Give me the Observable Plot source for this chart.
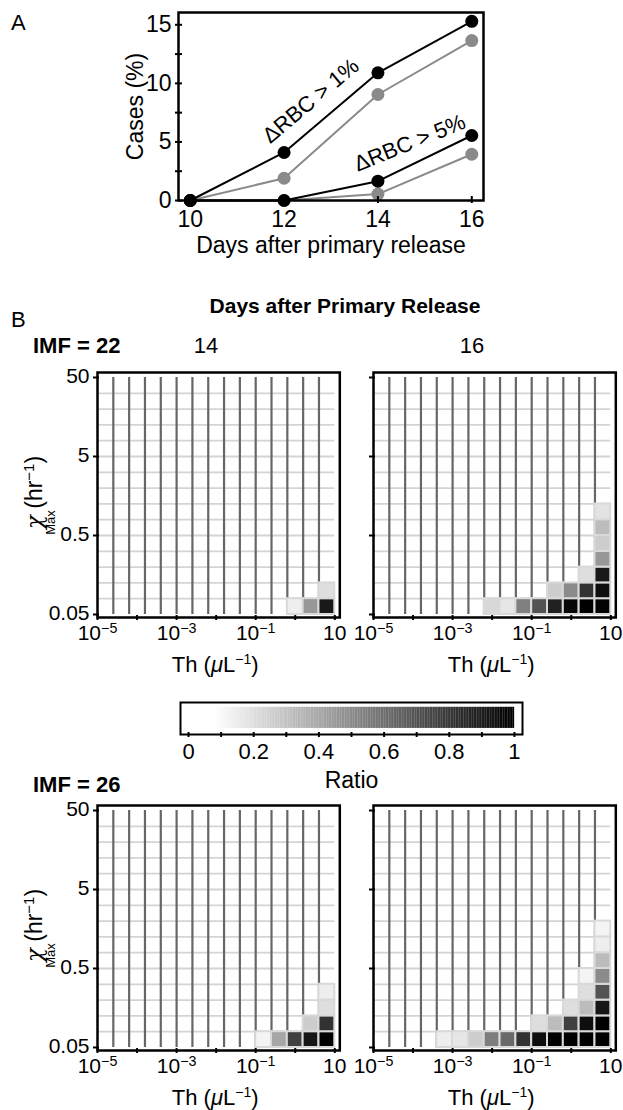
<!DOCTYPE html>
<html><head><meta charset="utf-8">
<script src="https://cdn.jsdelivr.net/npm/d3@7"></script>
<script src="https://cdn.jsdelivr.net/npm/@observablehq/plot@0.6"></script>
<style>
body{margin:0;background:#fff;}
#root{position:relative;width:623px;height:1110px;overflow:hidden;background:#fff;}
#root svg{position:absolute;overflow:visible;background:transparent;}
</style></head><body><div id="root"></div>
<script>
// ---------- Panel A data ----------
const days = [10, 12, 14, 16];
const black1 = [0, 4.1, 10.9, 15.3];   // ΔRBC > 1%, black
const gray1  = [0, 1.9, 9.05, 13.65];  // ΔRBC > 1%, gray
const black5 = [0, 0, 1.65, 5.55];     // ΔRBC > 5%, black
const gray5  = [0, 0, 0.55, 3.95];     // ΔRBC > 5%, gray
const yTicksA = [0, 5, 10, 15];
const yMinorA = [2.5, 7.5, 12.5];
const annotations = [
  {day: 12.57, value: 8.5, text: "ΔRBC > 1%", angle: -40},
  {day: 14.68, value: 4.9, text: "ΔRBC > 5%", angle: -22}
];

// ---------- Panel B data ----------
// column edges: Th (µL^-1), log10 exponents
const thEdgeExp = [-5, -4.6, -4.2, -3.8, -3.4, -3, -2.6, -2.2, -1.8, -1.4, -1, -0.6, -0.2, 0.2, 0.6, 1];
// row edges: χMax (hr^-1)
const chiEdges = [0.05, 0.0792, 0.1256, 0.1991, 0.3155, 0.5, 0.7924, 1.256, 1.991, 3.155, 5, 7.924, 12.56, 19.91, 31.55, 50];
const thTicks = [1e-5, 1e-3, 1e-1, 10];
const thMinor = [1e-4, 1e-2, 1];
const chiTicks = [0.05, 0.5, 5, 50];
const ratioTicks = [0, 0.2, 0.4, 0.6, 0.8, 1];
const ratioMinor = [0.1, 0.3, 0.5, 0.7, 0.9];
// nonzero cells: [column, row (from bottom), ratio]
const imf22_day14 = [[12,0,0.14],[13,0,0.45],[14,0,0.91],[14,1,0.2]];
const imf22_day16 = [[7,0,0.22],[8,0,0.17],[9,0,0.54],[10,0,0.70],[11,0,0.88],[12,0,0.98],[13,0,1],[14,0,0.99],
  [11,1,0.26],[12,1,0.5],[13,1,0.82],[14,1,0.95],[13,2,0.2],[14,2,0.91],[14,3,0.45],[14,4,0.26],[14,5,0.32],[14,6,0.18]];
const imf26_day14 = [[10,0,0.12],[11,0,0.4],[12,0,0.77],[13,0,0.92],[14,0,1],[13,1,0.26],[14,1,0.82],[14,2,0.2],[14,3,0.14]];
const imf26_day16 = [[4,0,0.14],[5,0,0.17],[6,0,0.26],[7,0,0.55],[8,0,0.62],[9,0,0.82],[10,0,0.95],[11,0,1],[12,0,1],[13,0,1],[14,0,1],
  [10,1,0.2],[11,1,0.32],[12,1,0.77],[13,1,0.95],[14,1,1],[12,2,0.2],[13,2,0.32],[14,2,0.92],[13,3,0.2],[14,3,0.7],
  [13,4,0.12],[14,4,0.5],[14,5,0.32],[14,6,0.14],[14,7,0.12]];

const FONT = '"Liberation Sans", Arial, Helvetica, sans-serif';
const root = document.getElementById("root");
const SVGNS = "http://www.w3.org/2000/svg";

function place(el, left, top) {
  el.style.left = left + "px"; el.style.top = top + "px";
  root.appendChild(el);
  return el;
}

// ---------- Panel A ----------
const rowsOf = (vals, series) => days.map((d, i) => ({day: d, value: vals[i], series}));
const grayRows = [...rowsOf(gray1, "g1"), ...rowsOf(gray5, "g5")];
const blackRows = [...rowsOf(black1, "b1"), ...rowsOf(black5, "b5")];

const plotA = Plot.plot({
  width: 623, height: 270,
  marginLeft: 178, marginRight: 140, marginTop: 12, marginBottom: 70,
  style: {fontFamily: FONT, fontSize: "23px", overflow: "visible", background: "transparent", color: "black"},
  x: {domain: [9.75, 16.25]},
  y: {domain: [0, 16.05]},
  marks: [
    Plot.line(grayRows, {x: "day", y: "value", z: "series", stroke: "#8a8a8a", strokeWidth: 2}),
    Plot.dot(grayRows, {x: "day", y: "value", r: 6.5, fill: "#8a8a8a"}),
    Plot.line(blackRows, {x: "day", y: "value", z: "series", stroke: "black", strokeWidth: 2}),
    Plot.dot(blackRows, {x: "day", y: "value", r: 6.5, fill: "black"}),
    Plot.frame({stroke: "black", strokeWidth: 2.5}),
    Plot.axisX({ticks: days, tickFormat: d => String(d), tickSize: 7, dy: -4, tickPadding: 7, fontSize: 23, strokeWidth: 2, label: null}),
    Plot.axisY({ticks: yTicksA, tickFormat: d => String(d), tickSize: 7, dx: 4, tickPadding: 4, fontSize: 23, strokeWidth: 2, label: null}),
    Plot.axisY({ticks: yMinorA, tickFormat: () => "", tickSize: 7, dx: 4, strokeWidth: 2, label: null}),
    Plot.text(["Days after primary release"], {frameAnchor: "bottom", lineAnchor: "middle", dy: 45, fontSize: 23}),
    Plot.text(["Cases (%)"], {frameAnchor: "left", textAnchor: "middle", lineAnchor: "middle", dx: -43, rotate: -90, fontSize: 23}),
    Plot.text(annotations, {x: "day", y: "value", text: "text", rotate: "angle", fontSize: 22})
  ]
});
place(plotA, 0, 0);

// ---------- helper: superscript tick labels ----------
function superscriptify(svg) {
  d3.select(svg).selectAll("text").each(function() {
    const t = this.textContent;
    if (t.includes("^")) {
      const [b, e] = t.split("^");
      const sel = d3.select(this);
      sel.text(null);
      sel.append("tspan").text(b);
      sel.append("tspan").attr("dy", "-0.55em").attr("font-size", "0.68em").text(e.replace("-", "\u2212"));
    }
  });
}
const thFormat = d => {
  const e = Math.round(Math.log10(d));
  return e === 1 ? "10" : "10^" + e;
};

const thEdges = thEdgeExp.map(e => Math.pow(10, e));
const cellColor = {type: "linear", domain: [0.08, 1], range: ["white", "black"], clamp: true};

function heatmap(cells, {left, top, marginLeft, width, showYLabels}) {
  const lookup = new Map(cells.map(([c, r, v]) => [c + "," + r, v]));
  const grid = [];
  for (let r = 0; r < 15; r++) for (let c = 0; c < 15; c++) {
    grid.push({x1: thEdges[c], x2: thEdges[c + 1], y1: chiEdges[r], y2: chiEdges[r + 1], value: lookup.get(c + "," + r) ?? 0});
  }
  const filled = grid.filter(d => d.value > 0);
  const innerX = thEdges.slice(1, -1);
  const innerY = chiEdges.slice(1, -1);
  const mT = 10, mB = 70, h = 245;
  const plot = Plot.plot({
    width, height: mT + h + mB,
    marginLeft, marginRight: width - marginLeft - 242.3, marginTop: mT, marginBottom: mB,
    style: {fontFamily: FONT, fontSize: "21px", overflow: "visible", background: "transparent", color: "black"},
    x: {type: "log", domain: [1e-5, 13.39]},
    y: {type: "log", domain: [0.0458, 57.86]},
    color: cellColor,
    marks: [
      Plot.rect(grid, {x1: "x1", x2: "x2", y1: "y1", y2: "y2", fill: "value"}),
      Plot.ruleY(innerY, {x1: thEdges[0], x2: thEdges[15], stroke: "#d4d4d4", strokeWidth: 1.8}),
      Plot.ruleX(innerX, {y1: chiEdges[0], y2: chiEdges[15], stroke: "#666", strokeWidth: 2.2}),
      Plot.rect(filled, {x1: "x1", x2: "x2", y1: "y1", y2: "y2", fill: "value", stroke: "#d9d9d9", strokeWidth: 2}),
      Plot.frame({stroke: "black", strokeWidth: 2.5}),
      Plot.axisX({ticks: thTicks, tickFormat: thFormat, tickSize: 5, dy: -2, tickPadding: 5, fontSize: 21, strokeWidth: 2, label: null}),
      Plot.axisX({ticks: thMinor, tickFormat: () => "", tickSize: 5, dy: -2, strokeWidth: 2, label: null}),
      Plot.axisY({ticks: chiTicks, tickFormat: () => "", tickSize: 6, dx: 2, strokeWidth: 2, label: null}),
      showYLabels ? Plot.text(chiTicks, {frameAnchor: "left", y: d => d, text: d => String(d), textAnchor: "end", lineAnchor: "middle", dx: -8, dy: -1, fontSize: 21}) : null
    ]
  });
  superscriptify(plot);
  const s = d3.select(plot);
  // x-axis title: Th (µL^-1)
  const cx = marginLeft + 242.3 / 2 - 3;
  const tx = s.append("text").attr("x", cx).attr("y", mT + h + 55)
    .attr("text-anchor", "middle").attr("font-size", 22).attr("font-family", FONT).attr("fill", "black");
  tx.append("tspan").text("Th (");
  tx.append("tspan").attr("font-style", "italic").text("\u03bc");
  tx.append("tspan").text("L");
  tx.append("tspan").attr("dy", -8).attr("font-size", 14).text("\u22121");
  tx.append("tspan").attr("dy", 8).text(")");
  if (showYLabels) {
    const g = s.append("g").attr("transform", `translate(42, ${mT + h / 2 - 2}) rotate(-90)`)
      .attr("font-family", FONT).attr("fill", "black");
    const ty = g.append("text").attr("text-anchor", "middle").attr("font-size", 23);
    ty.append("tspan").attr("font-style", "italic").attr("font-family", '"DejaVu Serif", serif').text("\u03c7");
    ty.append("tspan").text(" (hr");
    ty.append("tspan").attr("dy", -8).attr("font-size", 15).text("\u22121");
    ty.append("tspan").attr("dy", 8).text(")");
    g.append("text").attr("x", -30).attr("y", 13).attr("font-size", 13).text("Max");
  }
  place(plot, left, top - mT);
}

heatmap(imf22_day14, {left: 0, top: 372, marginLeft: 97, width: 345, showYLabels: true});
heatmap(imf22_day16, {left: 345, top: 372, marginLeft: 28, width: 278, showYLabels: false});
heatmap(imf26_day14, {left: 0, top: 805, marginLeft: 97, width: 345, showYLabels: true});
heatmap(imf26_day16, {left: 345, top: 805, marginLeft: 28, width: 278, showYLabels: false});

// ---------- colorbar ----------
const rampSteps = d3.range(0, 1, 0.005).map(v => ({v0: v, v1: v + 0.0055}));
const colorbar = Plot.plot({
  width: 623, height: 102,
  marginLeft: 180, marginRight: 101, marginTop: 10, marginBottom: 60,
  style: {fontFamily: FONT, fontSize: "22px", overflow: "visible", background: "transparent", color: "black"},
  x: {domain: [-0.0246, 1.0246]},
  y: {domain: [0, 1], axis: null},
  color: cellColor,
  marks: [
    Plot.rect(rampSteps, {x1: "v0", x2: "v1", y1: 0.19, y2: 0.85, fill: "v0"}),
    Plot.frame({stroke: "black", strokeWidth: 2}),
    Plot.axisX({ticks: ratioTicks, tickFormat: d => String(d), tickSize: 5, dy: -2, tickPadding: 6, fontSize: 22, strokeWidth: 2, label: null}),
    Plot.axisX({ticks: ratioMinor, tickFormat: () => "", tickSize: 5, dy: -2, strokeWidth: 2, label: null}),
    Plot.text(["Ratio"], {frameAnchor: "bottom", lineAnchor: "middle", dy: 46, fontSize: 23})
  ]
});
place(colorbar, 0, 692);

// ---------- overlay headers ----------
const ov = document.createElementNS(SVGNS, "svg");
ov.setAttribute("width", 623); ov.setAttribute("height", 1110);
ov.style.pointerEvents = "none";
place(ov, 0, 0);
const o = d3.select(ov).attr("font-family", FONT).attr("fill", "black");
const headers = [
  {x: 11, y: 30, t: "A", size: 22, weight: "normal", anchor: "start"},
  {x: 11, y: 327, t: "B", size: 22, weight: "normal", anchor: "start"},
  {x: 345, y: 313, t: "Days after Primary Release", size: 21, weight: "bold", anchor: "middle"},
  {x: 33, y: 353, t: "IMF = 22", size: 22, weight: "bold", anchor: "start"},
  {x: 206, y: 353, t: "14", size: 22, weight: "normal", anchor: "middle"},
  {x: 472, y: 353, t: "16", size: 22, weight: "normal", anchor: "middle"},
  {x: 33, y: 792, t: "IMF = 26", size: 22, weight: "bold", anchor: "start"}
];
headers.forEach(h => o.append("text").attr("x", h.x).attr("y", h.y).attr("font-size", h.size)
  .attr("font-weight", h.weight).attr("text-anchor", h.anchor).text(h.t));
</script></body></html>
